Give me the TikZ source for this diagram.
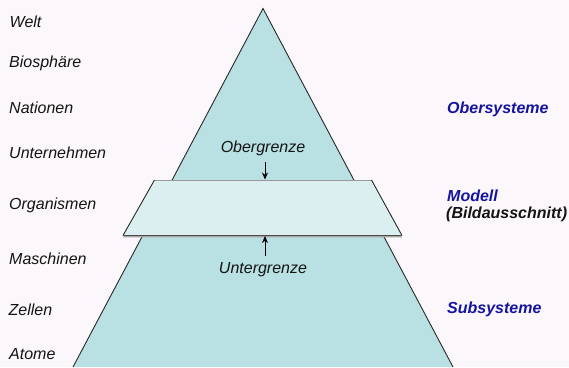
\documentclass[tikz,border=0pt]{standalone}
\usepackage{fontspec}
\setmainfont{Liberation Sans}
\usetikzlibrary{arrows.meta}
\definecolor{bgc}{RGB}{251,247,250}
\definecolor{pyr}{RGB}{185,224,226}
\definecolor{trap}{RGB}{220,239,240}
\definecolor{edge}{RGB}{40,40,40}
\definecolor{navy}{RGB}{20,20,160}
\definecolor{txt}{RGB}{20,20,20}
\tikzset{
  lbl/.style={anchor=base west, inner sep=0pt, font=\fontsize{16bp}{18bp}\selectfont\itshape, text=txt},
  sys/.style={anchor=base west, inner sep=0pt, font=\fontsize{16bp}{18bp}\selectfont\bfseries\itshape, text=navy},
  bnd/.style={anchor=base, inner sep=0pt, font=\fontsize{16bp}{18bp}\selectfont\itshape, text=txt},
  arr/.style={-{Stealth[length=7bp,width=6bp]}, line width=0.9bp, draw=black},
  outline/.style={draw=edge, line width=0.9bp, line join=miter}
}
\begin{document}
\begin{tikzpicture}[x=1bp,y=-1bp]
\useasboundingbox (0,0) rectangle (569,367);
\fill[bgc] (0,0) rectangle (569,367);
% pyramid
\coordinate (apex) at (263,8.5);
\coordinate (bl) at (73,367);
\coordinate (br) at (453,367);
\fill[pyr] (bl) -- (apex) -- (br) -- cycle;
\draw[outline] (bl) -- (apex) -- (br);
% model slab
\coordinate (tl) at (154.5,180);
\coordinate (tr) at (371.5,180);
\coordinate (br2) at (402,235.5);
\coordinate (bl2) at (123,235.5);
\fill[gray!70] ([shift={(0,1.8)}]tl) -- ([shift={(0,1.8)}]tr) -- ([shift={(0,1.8)}]br2) -- ([shift={(0,1.8)}]bl2) -- cycle;
\fill[trap] (tl) -- (tr) -- (br2) -- (bl2) -- cycle;
\draw[draw=gray!80, line width=0.8bp] (tl) -- (tr);
\draw[outline] (tr) -- (br2);
\draw[outline] (bl2) -- (tl);
\draw[draw=gray!60!black, line width=0.8bp] (bl2) -- (br2);
% left labels
\node[lbl] (welt) at (9.5,27) {Welt};
\node[lbl] (bio) at (9,67) {Biosphäre};
\node[lbl] (nat) at (9,113) {Nationen};
\node[lbl] (unt) at (9,158) {Unternehmen};
\node[lbl] (org) at (9,209) {Organismen};
\node[lbl] (mas) at (9,264) {Maschinen};
\node[lbl] (zel) at (8.5,315) {Zellen};
\node[lbl] (ato) at (9,359) {Atome};
% right labels
\node[sys] (ober) at (447,113) {Obersysteme};
\node[sys] (mod) at (447,201.5) {Modell};
\node[lbl, font=\fontsize{16bp}{18bp}\selectfont\bfseries\itshape] (bild) at (446,218) {(Bildausschnitt)};
\node[sys] (sub) at (447,313) {Subsysteme};
% bounds
\node[bnd] (og) at (263,152) {Obergrenze};
\node[bnd] (ug) at (263,273.5) {Untergrenze};
\coordinate (ogs) at (265,162);
\coordinate (oge) at (265,179.5);
\coordinate (ugs) at (265,255.5);
\coordinate (uge) at (265,236);
\draw[arr] (ogs) -- (oge);
\draw[arr] (ugs) -- (uge);
\end{tikzpicture}
\end{document}
